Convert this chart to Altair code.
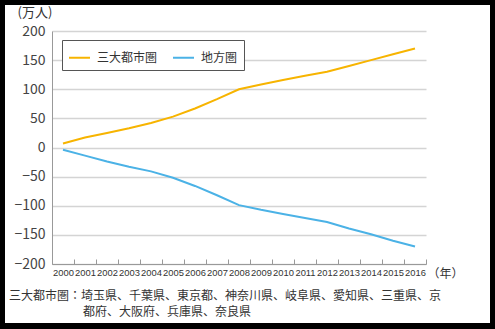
import altair as alt
import pandas as pd

years = [str(y) for y in range(2000, 2017)]
metro = [7, 17, 25, 33, 42, 53, 67, 83, 100, 108, 116, 123, 130, 140, 150, 160, 170]
local = [-4, -14, -24, -33, -41, -52, -66, -82, -99, -107, -114, -121, -128, -139, -149, -160, -170]
series = ["三大都市圏", "地方圏"]
colors = ["#F7B400", "#4BB2E6"]
y_ticks = [-200, -150, -100, -50, 0, 50, 100, 150, 200]
note_line1 = "三大都市圏：埼玉県、千葉県、東京都、神奈川県、岐阜県、愛知県、三重県、京"
note_line2 = "都府、大阪府、兵庫県、奈良県"

df = pd.DataFrame({
    "year": years * 2,
    "value": metro + local,
    "series": [series[0]] * len(years) + [series[1]] * len(years),
})

JP = "Noto Sans CJK JP"
W, H = 374, 233
PL, PT = 52, 31
TW, TH = 495, 329

lines = alt.Chart(df).mark_line(strokeWidth=2).encode(
    x=alt.X("year:O", sort=years,
            scale=alt.Scale(type="band", paddingInner=0, paddingOuter=0),
            axis=alt.Axis(title="（年）", titleAngle=0, titleAlign="left",
                          titleBaseline="middle", titleX=W + 1, titleY=9,
                          titleFont=JP, titleFontSize=12, titleFontWeight="normal",
                          titleColor="#333",
                          labelAngle=0, labelFont="Liberation Sans",
                          labelFontSize=9.4, labelColor="#333", labelPadding=9,
                          labelOverlap=False,
                          tickBand="extent", tickSize={"expr": "-5"}, tickColor="#999",
                          domainColor="#999", grid=False)),
    y=alt.Y("value:Q",
            scale=alt.Scale(domain=[-200, 200], nice=False),
            axis=alt.Axis(values=y_ticks, title="(万人)", titleAngle=0,
                          titleAlign="left", titleBaseline="middle",
                          titleX=-35, titleY=-19, titleFont=JP, titleFontSize=13,
                          titleFontWeight="normal", titleColor="#333",
                          labelExpr="datum.value < 0 ? '−' + abs(datum.value) : datum.label",
                          labelFont=JP, labelFontSize=14, labelColor="#444",
                          labelPadding=7, tickSize=0, domainColor="#999",
                          gridColor="#d4d4d4", gridWidth=1.5)),
    color=alt.Color("series:N",
                    scale=alt.Scale(domain=series, range=colors),
                    legend=alt.Legend(title=None, orient="none", legendX=10, legendY=9,
                                      direction="horizontal", symbolType="stroke",
                                      symbolSize=440, symbolStrokeWidth=2,
                                      labelFont=JP, labelFontSize=12, labelColor="#333",
                                      labelOffset=6, columnPadding=11, padding=6,
                                      strokeColor="#555", fillColor="white")),
)

frame = alt.Chart(pd.DataFrame({"k": [0]})).mark_rect(
    fillOpacity=0, stroke="black", strokeWidth=10
).encode(
    x=alt.value(-PL), x2=alt.value(TW - PL),
    y=alt.value(-PT), y2=alt.value(TH - PT - 1),
)

note_style = dict(align="left", baseline="middle", font=JP, fontSize=12, color="#333")
foot1 = alt.Chart(pd.DataFrame({"k": [0]})).mark_text(**note_style).encode(
    x=alt.value(9 - PL), y=alt.value(296 - PT), text=alt.value(note_line1),
)
foot2 = alt.Chart(pd.DataFrame({"k": [0]})).mark_text(**note_style).encode(
    x=alt.value(83 - PL), y=alt.value(312 - PT), text=alt.value(note_line2),
)

chart = alt.layer(lines, foot1, foot2, frame).properties(
    width=W, height=H,
    autosize=alt.AutoSizeParams(type="none"),
    padding={"left": PL, "top": PT, "right": TW - PL - W, "bottom": TH - PT - H},
    background="white",
).configure_view(stroke=None)

chart.save("out.html", embed_options={"renderer": "svg", "actions": False})
